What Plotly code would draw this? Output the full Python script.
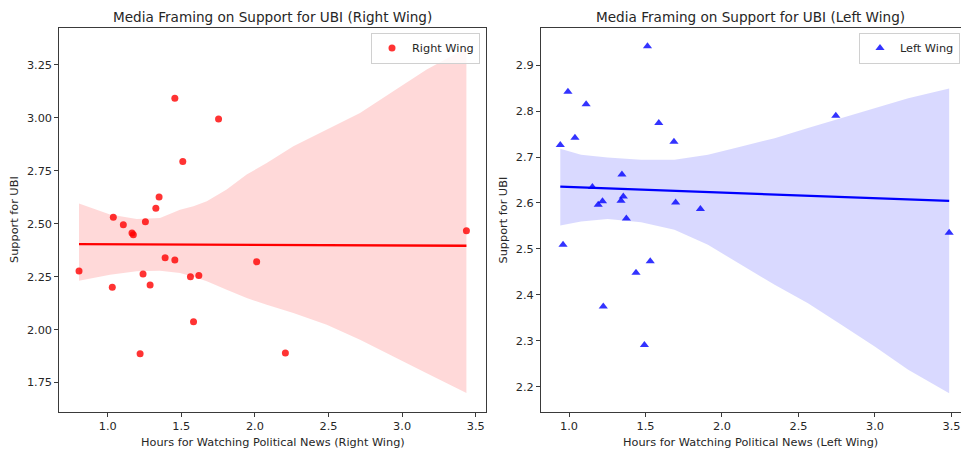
import numpy as np
import plotly.graph_objects as go

# ---- Right wing sample ----
right_hours = [0.805, 1.031, 1.038, 1.106, 1.165, 1.174, 1.220, 1.240, 1.256, 1.288,
               1.327, 1.349, 1.390, 1.456, 1.456, 1.510, 1.562, 1.583, 1.619, 1.753,
               2.012, 2.207, 3.437]
right_support = [2.277, 2.200, 2.530, 2.495, 2.456, 2.448, 1.886, 2.262, 2.509, 2.211,
                 2.573, 2.626, 2.339, 3.092, 2.328, 2.794, 2.250, 2.037, 2.255, 2.994,
                 2.320, 1.889, 2.467]

# bootstrap confidence band of the right-wing fit
right_band_x = [0.805, 1.016, 1.197, 1.355, 1.491, 1.582, 1.673, 1.808, 1.944, 2.080,
                2.261, 2.488, 2.714, 2.940, 3.167, 3.437]
right_band_hi = [2.595, 2.543, 2.522, 2.527, 2.566, 2.582, 2.606, 2.661, 2.732, 2.787,
                 2.866, 2.944, 3.023, 3.126, 3.228, 3.330]
right_band_lo = [2.231, 2.259, 2.275, 2.278, 2.267, 2.250, 2.228, 2.188, 2.149, 2.117,
                 2.078, 2.023, 1.952, 1.873, 1.794, 1.700]

# ---- Left wing sample ----
left_hours = [0.943, 0.961, 0.993, 1.039, 1.112, 1.153, 1.191, 1.219, 1.224, 1.340,
              1.346, 1.355, 1.375, 1.438, 1.493, 1.513, 1.531, 1.587, 1.686, 1.697,
              1.859, 2.744, 3.485]
left_support = [2.726, 2.509, 2.842, 2.742, 2.815, 2.635, 2.596, 2.604, 2.375, 2.605,
                2.662, 2.614, 2.566, 2.448, 2.291, 2.941, 2.473, 2.774, 2.733, 2.601,
                2.587, 2.790, 2.535]

left_band_x = [0.943, 1.079, 1.253, 1.471, 1.689, 1.908, 2.126, 2.344, 2.562, 2.780,
               2.998, 3.217, 3.485]
left_band_hi = [2.718, 2.705, 2.699, 2.694, 2.694, 2.705, 2.723, 2.741, 2.763, 2.785,
                2.807, 2.828, 2.849]
left_band_lo = [2.551, 2.560, 2.565, 2.558, 2.542, 2.509, 2.466, 2.422, 2.382, 2.335,
                2.288, 2.237, 2.186]

right_xticks = [1.0, 1.5, 2.0, 2.5, 3.0, 3.5]
right_yticks = [1.75, 2.00, 2.25, 2.50, 2.75, 3.00, 3.25]
left_xticks = [1.0, 1.5, 2.0, 2.5, 3.0, 3.5]
left_yticks = [2.2, 2.3, 2.4, 2.5, 2.6, 2.7, 2.8, 2.9]

W, H = 961, 449
FONT = "DejaVu Sans"
TXT = "#262626"
SMALL = 11.3
BIG = 13.6


def px_x(p):
    return p / W


def px_y(p):
    return 1 - p / H


def fit_line(x, y):
    slope, icpt = np.polyfit(x, y, 1)
    xs = np.array([min(x), max(x)])
    return xs, slope * xs + icpt


fig = go.Figure()


def add_panel(xs, ys, bx, bhi, blo, color, band_rgba, symbol, msize, name,
              xa, ya, legend):
    fig.add_trace(go.Scatter(
        x=xs, y=ys, mode="markers", name=name,
        marker=dict(symbol=symbol, size=msize, color=color, opacity=0.8,
                    line=dict(width=0)),
        xaxis=xa, yaxis=ya, legend=legend, hoverinfo="skip"))
    fig.add_trace(go.Scatter(
        x=list(bx) + list(bx)[::-1], y=list(bhi) + list(blo)[::-1],
        mode="lines", fill="toself", fillcolor=band_rgba,
        line=dict(width=0), showlegend=False, xaxis=xa, yaxis=ya,
        hoverinfo="skip"))
    lx, ly = fit_line(xs, ys)
    fig.add_trace(go.Scatter(
        x=lx, y=ly, mode="lines", line=dict(color=color, width=2.3),
        showlegend=False, xaxis=xa, yaxis=ya, hoverinfo="skip"))


add_panel(right_hours, right_support, right_band_x, right_band_hi, right_band_lo,
          "rgb(255,0,0)", "rgba(255,0,0,0.15)", "circle", 7, "Right Wing",
          "x", "y", "legend")
add_panel(left_hours, left_support, left_band_x, left_band_hi, left_band_lo,
          "rgb(0,0,255)", "rgba(0,0,255,0.15)", "triangle-up", 8, "Left Wing",
          "x2", "y2", "legend2")

axis_common = dict(
    showgrid=False, zeroline=False, showline=True, mirror=True,
    linecolor="#3a3a3a", linewidth=1, ticks="outside", ticklen=4,
    tickwidth=1, tickcolor="#3a3a3a", automargin=False,
    tickfont=dict(family=FONT, size=SMALL, color=TXT),
)

legend_common = dict(
    xanchor="right", yanchor="top", bgcolor="rgba(255,255,255,0.8)",
    bordercolor="#d0d0d0", borderwidth=1, tracegroupgap=0,
    font=dict(family=FONT, size=SMALL, color=TXT),
)

fig.update_layout(
    width=W, height=H, margin=dict(l=0, r=0, t=0, b=0),
    paper_bgcolor="white", plot_bgcolor="white",
    xaxis=dict(axis_common, domain=[px_x(59.3), px_x(485.7)], range=[0.671, 3.568],
               tickvals=right_xticks, ticktext=[f"{v:.1f}" for v in right_xticks],
               anchor="y"),
    yaxis=dict(axis_common, domain=[px_y(411.7), px_y(28.3)], range=[1.612, 3.423],
               tickvals=right_yticks, ticktext=[f"{v:.2f}" for v in right_yticks],
               anchor="x"),
    xaxis2=dict(axis_common, domain=[px_x(541), px_x(960.5)], range=[0.817, 3.559],
                tickvals=left_xticks, ticktext=[f"{v:.1f}" for v in left_xticks],
                anchor="y2"),
    yaxis2=dict(axis_common, domain=[px_y(411.7), px_y(28.3)], range=[2.146, 2.98],
                tickvals=left_yticks, ticktext=[f"{v:.1f}" for v in left_yticks],
                anchor="x2"),
    legend=dict(legend_common, x=px_x(480), y=px_y(32.5)),
    legend2=dict(legend_common, x=px_x(960), y=px_y(32.5)),
    showlegend=True,
)

annots = [
    ("Media Framing on Support for UBI (Right Wing)", 272.5, 17, 0, BIG),
    ("Media Framing on Support for UBI (Left Wing)", 750.7, 17, 0, BIG),
    ("Hours for Watching Political News (Right Wing)", 272.5, 442, 0, SMALL),
    ("Hours for Watching Political News (Left Wing)", 750.7, 442, 0, SMALL),
    ("Support for UBI", 15, 220, -90, SMALL),
    ("Support for UBI", 503.5, 220, -90, SMALL),
]
for text, ax, ay, ang, size in annots:
    fig.add_annotation(text=text, x=px_x(ax), y=px_y(ay), xref="paper", yref="paper",
                       xanchor="center", yanchor="middle", showarrow=False,
                       textangle=ang, font=dict(family=FONT, size=size, color=TXT))

fig.write_html("out.html")
